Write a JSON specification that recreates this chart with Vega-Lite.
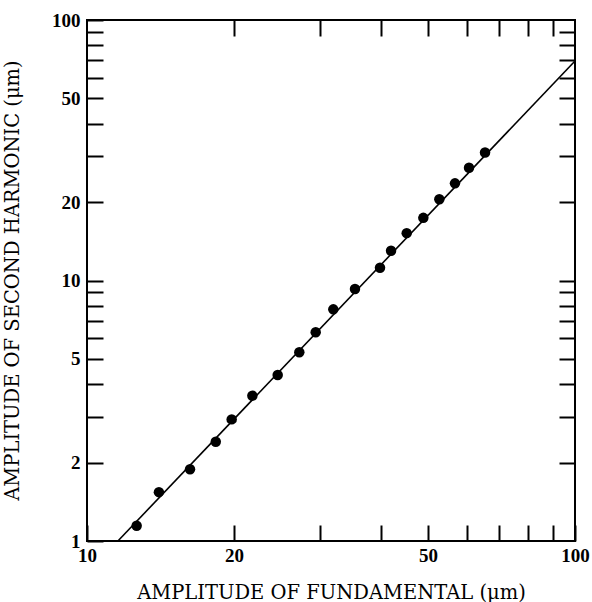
{
  "$schema": "https://vega.github.io/schema/vega-lite/v6.json",
  "width": 488,
  "height": 521,
  "autosize": {"type": "none"},
  "padding": {"left": 87, "top": 20, "right": 17, "bottom": 61},
  "background": "white",
  "config": {
    "view": {"stroke": "black", "strokeWidth": 2},
    "axis": {
      "domain": false,
      "grid": false,
      "tickColor": "black",
      "tickWidth": 2,
      "tickSize": -16,
      "labelFont": "Liberation Serif",
      "labelFontSize": 19,
      "labelFontWeight": "bold",
      "labelColor": "black",
      "titleFont": "DejaVu Serif",
      "titleFontSize": 19.5,
      "titleFontWeight": "normal",
      "titleColor": "black"
    }
  },
  "datasets": {
    "pts": [
      {"fundamental": 12.64, "second": 1.145},
      {"fundamental": 14.04, "second": 1.54},
      {"fundamental": 16.26, "second": 1.885},
      {"fundamental": 18.36, "second": 2.405},
      {"fundamental": 19.79, "second": 2.93},
      {"fundamental": 21.82, "second": 3.61},
      {"fundamental": 24.59, "second": 4.34},
      {"fundamental": 27.23, "second": 5.3},
      {"fundamental": 29.42, "second": 6.33},
      {"fundamental": 31.97, "second": 7.75},
      {"fundamental": 35.41, "second": 9.28},
      {"fundamental": 39.85, "second": 11.2},
      {"fundamental": 41.98, "second": 13.0},
      {"fundamental": 45.2, "second": 15.2},
      {"fundamental": 48.89, "second": 17.4},
      {"fundamental": 52.72, "second": 20.5},
      {"fundamental": 56.76, "second": 23.6},
      {"fundamental": 60.65, "second": 27.1},
      {"fundamental": 65.41, "second": 31.0}
    ],
    "fit": [
      {"fundamental": 11.57, "second": 1.0},
      {"fundamental": 100, "second": 69.6}
    ]
  },
  "layer": [
    {
      "data": {"name": "pts"},
      "mark": {"type": "point", "filled": true, "color": "black", "size": 110, "opacity": 1},
      "encoding": {
        "x": {
          "field": "fundamental", "type": "quantitative",
          "scale": {"type": "log", "domain": [10, 100], "nice": false},
          "axis": {
            "orient": "bottom",
            "title": "AMPLITUDE OF FUNDAMENTAL (μm)",
            "values": [10, 20, 30, 40, 50, 60, 70, 80, 90, 100],
            "format": "d",
            "labelExpr": "indexof([10, 20, 50, 100], datum.value) >= 0 ? datum.label : ''",
            "labelPadding": 21,
            "labelFlush": false,
            "labelOverlap": false,
            "titleY": 57,
            "titleBaseline": "alphabetic"
          }
        },
        "y": {
          "field": "second", "type": "quantitative",
          "scale": {"type": "log", "domain": [1, 100], "nice": false},
          "axis": {
            "orient": "left",
            "title": "AMPLITUDE OF SECOND HARMONIC (μm)",
            "values": [1, 2, 3, 4, 5, 6, 7, 8, 9, 10, 20, 30, 40, 50, 60, 70, 80, 90, 100],
            "format": "d",
            "labelExpr": "indexof([1, 2, 5, 10, 20, 50, 100], datum.value) >= 0 ? datum.label : ''",
            "labelPadding": 23,
            "labelFlush": false,
            "labelOverlap": false,
            "titleX": -75,
            "titleY": 260,
            "titleAngle": -90,
            "titleBaseline": "middle",
            "titleAlign": "center"
          }
        }
      }
    },
    {
      "data": {"name": "fit"},
      "mark": {"type": "line", "color": "black", "strokeWidth": 1.6},
      "encoding": {
        "x": {
          "field": "fundamental", "type": "quantitative",
          "axis": {
            "orient": "top",
            "title": null,
            "labels": false,
            "values": [20, 30, 40, 50, 60, 70, 80, 90]
          }
        },
        "y": {
          "field": "second", "type": "quantitative",
          "axis": {
            "orient": "right",
            "title": null,
            "labels": false,
            "values": [2, 3, 4, 5, 6, 7, 8, 9, 10, 20, 30, 40, 50, 60, 70, 80, 90]
          }
        }
      }
    }
  ],
  "resolve": {"axis": {"x": "independent", "y": "independent"}}
}
